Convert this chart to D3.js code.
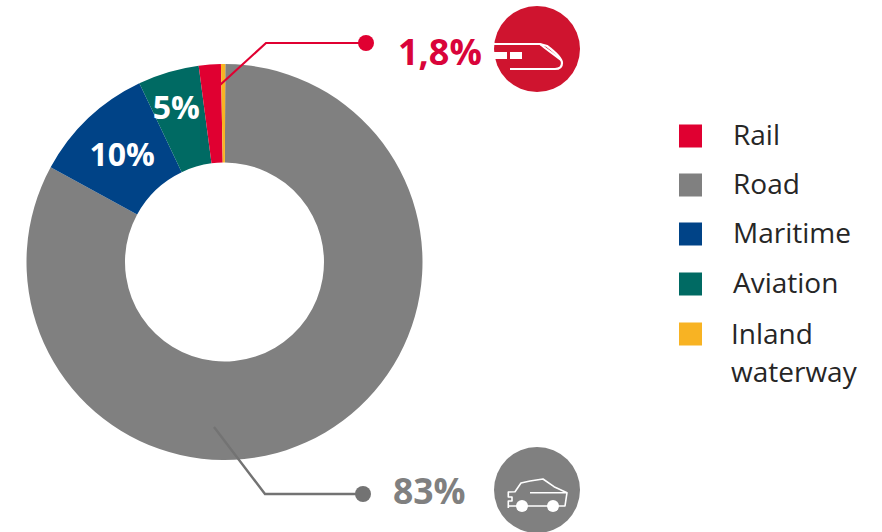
<!DOCTYPE html>
<html>
<head>
<meta charset="utf-8">
<script src="https://cdn.jsdelivr.net/npm/d3@7"></script>
<style>
  html, body { margin: 0; padding: 0; background: #fff; }
  svg { display: block; }
  text { font-family: "Open Sans", sans-serif; }
</style>
</head>
<body>
<svg id="chart" width="882" height="532"></svg>
<script>
const modes = ["Road", "Maritime", "Aviation", "Rail", "Inland waterway"];
const shares = [83, 10, 5, 1.8, 0.35];
const sliceColors = ["#808080", "#004387", "#006a63", "#e00031", "#f8b323"];
const sliceLabels = ["", "10%", "5%", "", ""];
// Hand nudges for the labels, relative to each slice centroid
const labelNudgeX = [0, 0, -6, 0, 0];
const labelNudgeY = [0, 0, -12, 0, 0];

const legendModes = ["Rail", "Road", "Maritime", "Aviation", "Inland waterway"];
const legendRows = [136, 185, 234, 284, 334];

const svg = d3.select("#chart");
const cx = 224.5, cy = 262, outerR = 198, innerR = 99.5;

const color = d3.scaleOrdinal(modes, sliceColors);
const startAngle = 0.004;
const pie = d3.pie().sort(null).startAngle(startAngle).endAngle(startAngle + 2 * Math.PI)(shares);
const arc = d3.arc().innerRadius(innerR).outerRadius(outerR);

const donut = svg.append("g").attr("transform", `translate(${cx},${cy})`);
donut.selectAll("path")
  .data(pie)
  .join("path")
  .attr("d", arc)
  .attr("fill", (d, i) => color(modes[i]));

// Percent labels sit inside the two mid-sized slices
donut.selectAll("text")
  .data(pie)
  .join("text")
  .filter(d => sliceLabels[d.index])
  .attr("transform", d => {
    const [x, y] = arc.centroid(d);
    return `translate(${x + labelNudgeX[d.index]},${y + labelNudgeY[d.index]})`;
  })
  .attr("text-anchor", "middle")
  .attr("dy", "0.36em")
  .attr("fill", "#fff")
  .attr("font-weight", 700)
  .attr("font-size", 32)
  .text(d => sliceLabels[d.index]);

// Callout leaders
const leader = d3.line();
svg.append("path")
  .attr("d", leader([[220, 85], [266, 43], [366, 43]]))
  .attr("fill", "none").attr("stroke", "#e00031").attr("stroke-width", 2.2);
svg.append("circle").attr("cx", 366).attr("cy", 43).attr("r", 8).attr("fill", "#e00031");

svg.append("path")
  .attr("d", leader([[214, 427], [265, 494], [363, 494]]))
  .attr("fill", "none").attr("stroke", "#737373").attr("stroke-width", 2.4);
svg.append("circle").attr("cx", 363).attr("cy", 494).attr("r", 8).attr("fill", "#737373");

// Callout values
svg.append("text").attr("x", 398).attr("y", 65)
  .attr("fill", "#d9043a").attr("font-weight", 700).attr("font-size", 36).text("1,8%");
svg.append("text").attr("x", 393).attr("y", 504)
  .attr("fill", "#808080").attr("font-weight", 700).attr("font-size", 35.5).text("83%");

// Train badge
const train = svg.append("g").attr("transform", "translate(537,49)");
train.append("circle").attr("r", 43).attr("fill", "#cf142f");
train.append("path")
  .attr("d", "M-43,-5 H3 L10,-3 C18,3 25,9 25,14 C25,18 22,20 18,20 H-27")
  .attr("fill", "none").attr("stroke", "#fff").attr("stroke-width", 2.2);
train.append("path")
  .attr("d", "M3,-5 C9,0 15,4 24,11")
  .attr("fill", "none").attr("stroke", "#fff").attr("stroke-width", 2.2);
train.append("rect").attr("x", -43).attr("y", 3).attr("width", 13).attr("height", 7).attr("fill", "#fff");
train.append("rect").attr("x", -27).attr("y", 3).attr("width", 12).attr("height", 7).attr("fill", "#fff");

// Car badge
const car = svg.append("g").attr("transform", "translate(537,490)");
car.append("circle").attr("r", 43).attr("fill", "#808080");
car.append("path")
  .attr("d", "M-28.7,18 V11 H-25 V7 H-28.7 V2 L-22,1.7 L-16,-7 L-7,-9 L6,-11 L17,-3.3 L30,2.7 L28,16 H-28.7")
  .attr("fill", "none").attr("stroke", "#fff").attr("stroke-width", 1.6).attr("stroke-linejoin", "round");
car.append("path").attr("d", "M-7,2.7 H30").attr("stroke", "#fff").attr("stroke-width", 1.6);
car.append("circle").attr("cx", -15).attr("cy", 16).attr("r", 6).attr("fill", "#fff");
car.append("circle").attr("cx", 16).attr("cy", 16).attr("r", 6).attr("fill", "#fff");

// Legend
const legend = svg.append("g").selectAll("g")
  .data(legendModes)
  .join("g")
  .attr("transform", (d, i) => `translate(679,${legendRows[i]})`);
legend.append("rect")
  .attr("y", -11.5).attr("width", 23).attr("height", 23)
  .attr("fill", d => color(d));
legend.append("text")
  .attr("font-size", 28).attr("fill", "#262626")
  .each(function (d) {
    const words = d === "Inland waterway" ? ["Inland", "waterway"] : [d];
    const x = words.length > 1 ? 52 : 54;
    d3.select(this).selectAll("tspan")
      .data(words)
      .join("tspan")
      .attr("x", x)
      .attr("y", (w, j) => (words.length > 1 ? 9.5 : 8.6) + j * 38)
      .text(w => w);
  });
</script>
</body>
</html>
